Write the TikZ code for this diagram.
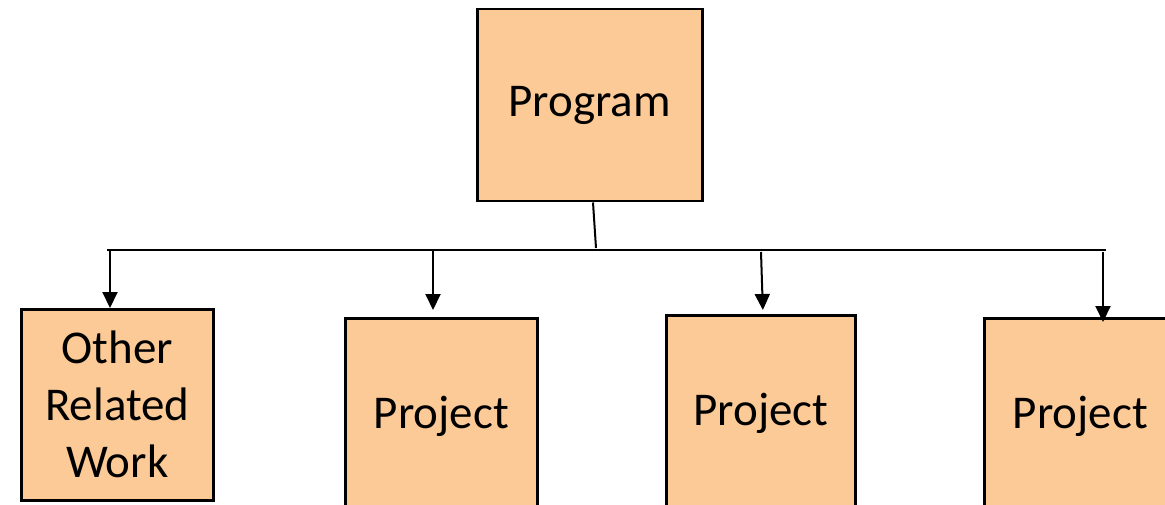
\documentclass[tikz,border=0pt]{standalone}
\usepackage{fontspec}
\setmainfont{Carlito}
\usetikzlibrary{arrows.meta,calc}
\definecolor{peach}{RGB}{252,202,150}
\begin{document}
\begin{tikzpicture}[x=1pt,y=-1pt,
  box/.style={draw=black,line width=2.5pt,fill=peach,inner sep=0pt,anchor=north west,
    font=\fontsize{47}{57}\selectfont,align=center},
  conn/.style={line width=2pt},
  arr/.style={line width=2pt,-{Triangle[length=16pt,width=15pt]}}]
\useasboundingbox (0,0) rectangle (1165,505);
\clip (0,0) rectangle (1165,505);
\fill[white] (0,0) rectangle (1165,505);
\node[box,minimum width=225pt,minimum height=192pt] (prog) at (476,8) {Program};
\node[box,minimum width=192pt,minimum height=191pt] (other) at (20,308) {Other\\Related\\Work};
\node[box,minimum width=192pt,minimum height=196pt] (p1) at (344,317) {Project};
\node[box,minimum width=189pt,minimum height=196pt] (p2) at (665,314) {Project};
\node[box,minimum width=192pt,minimum height=196pt] (p3) at (983,317) {Project};
\coordinate (bl) at (107,250);
\coordinate (br) at (1106,250);
\coordinate (j) at (596,248);
\coordinate (s1) at (110,251);
\coordinate (s2) at (433,251);
\coordinate (s3) at (761,252);
\coordinate (s4) at (1103,252);
\draw[conn] ($(prog.south west)+(117,0)$) -- (j);
\draw[conn] (bl) -- (br);
\draw[arr] (s1) -- ($(other.north west)+(90,0)$);
\draw[arr,shorten >=7pt] (s2) -- ($(p1.north west)+(89,0)$);
\draw[arr,shorten >=4pt] (s3) -- ($(p2.north west)+(98,0)$);
\draw[arr,shorten >=-5pt] (s4) -- ($(p3.north west)+(120,0)$);
\end{tikzpicture}
\end{document}
